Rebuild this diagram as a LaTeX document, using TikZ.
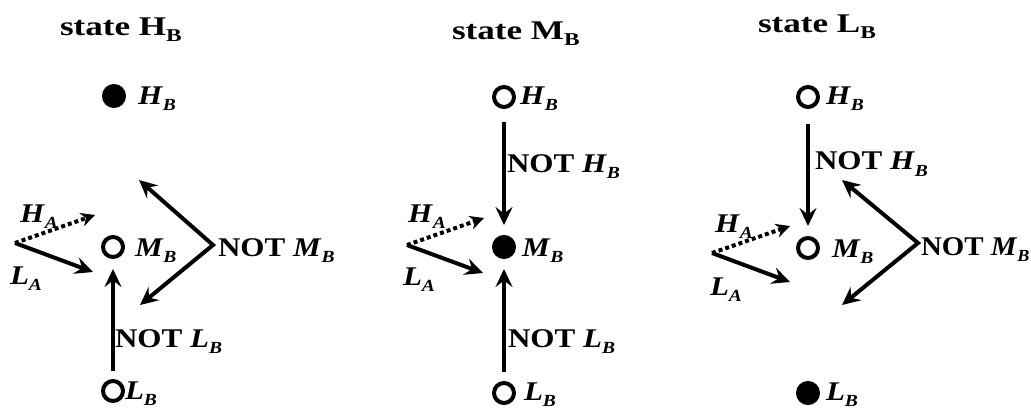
\documentclass[tikz,border=0pt]{standalone}
\usepackage{fontspec}
\setmainfont{Liberation Serif}
\usepackage{graphicx}
\usetikzlibrary{arrows.meta}

\newcommand\vv[2]{\textbf{\textit{#1}}\raisebox{-6pt}{\fontsize{17}{17}\selectfont\textbf{\textit{#2}}}}
\newcommand\sx[1]{\scalebox{1.15}[1]{#1}}
\newcommand\ttl[2]{\scalebox{1.3}[1]{\textbf{state #1}\raisebox{-6pt}{\fontsize{18}{18}\selectfont\textbf{#2}}}}

\begin{document}
\begin{tikzpicture}[x=1pt,y=-1pt,
 every node/.style={inner sep=0pt, outer sep=0pt},
 lbl/.style={anchor=base west, font=\fontsize{27}{30}\selectfont},
 ttlbl/.style={anchor=base west, font=\fontsize{27}{30}\selectfont},
 opn/.style={circle, draw, line width=4pt, minimum size=20pt},
 fil/.style={circle, draw, fill, line width=4pt, minimum size=20pt},
 arr/.style={line width=4pt, -{Stealth[length=18pt,width=17pt,inset=6.5pt]}},
 darr/.style={line width=4pt, {Stealth[length=18pt,width=17pt,inset=6.5pt]}-{Stealth[length=18pt,width=17pt,inset=6.5pt]}},
 dots/.style={line width=4pt, dash pattern=on 4pt off 3pt, -{Stealth[length=14pt,width=14pt]}},
]
\useasboundingbox (0,0) rectangle (1031,409);

% ---------- panel 1 ----------
\node[ttlbl] (t1) at (60,36) {\ttl{H}{B}};
\node[fil] (HB1) at (114,96) {};
\node[opn] (MB1) at (113,247) {};
\node[opn] (LB1) at (113,391) {};
\draw[arr, shorten <=10pt, shorten >=12pt] (LB1) -- (MB1);
\coordinate (V1) at (213,245);
\coordinate (T1a) at (139,180);
\coordinate (T1b) at (140,305);
\draw[darr] (T1a) -- (V1) -- (T1b);
\coordinate (A1) at (15,243);
\coordinate (LA1) at (93,272);
\coordinate (HA1) at (95,215);
\draw[arr] (A1) -- (LA1);
\draw[dots] (A1) -- (HA1);
\node[lbl] (hb1) at (138,105) {\sx{\vv{H}{B}}};
\node[lbl] (mb1) at (135,256) {\sx{\vv{M}{B}}};
\node[lbl] (lb1) at (125,399) {\sx{\vv{L}{B}}};
\node[lbl] (nl1) at (115,347) {\sx{\textbf{NOT} \vv{L}{B}}};
\node[lbl] (nm1) at (218,256) {\sx{\textbf{NOT} \vv{M}{B}}};
\node[lbl] (ha1) at (20,222) {\sx{\vv{H}{A}}};
\node[lbl] (la1) at (10,284) {\sx{\vv{L}{A}}};

% ---------- panel 2 ----------
\node[ttlbl] (t2) at (452,40) {\ttl{M}{B}};
\node[opn] (HB2) at (504,97) {};
\node[fil] (MB2) at (504,247) {};
\node[opn] (LB2) at (504,393) {};
\draw[arr, shorten <=15pt, shorten >=12pt] (HB2) -- (MB2);
\draw[arr, shorten <=11pt, shorten >=12pt] (LB2) -- (MB2);
\coordinate (A2) at (407,245);
\coordinate (LA2) at (483,273);
\coordinate (HA2) at (484,218);
\draw[arr] (A2) -- (LA2);
\draw[dots] (A2) -- (HA2);
\node[lbl] (hb2) at (520,105) {\sx{\vv{H}{B}}};
\node[lbl] (nh2) at (507,172) {\sx{\textbf{NOT} \vv{H}{B}}};
\node[lbl] (mb2) at (522,256) {\sx{\vv{M}{B}}};
\node[lbl] (nl2) at (508,347) {\sx{\textbf{NOT} \vv{L}{B}}};
\node[lbl] (lb2) at (524,400) {\sx{\vv{L}{B}}};
\node[lbl] (ha2) at (408,222) {\sx{\vv{H}{A}}};
\node[lbl] (la2) at (403,285) {\sx{\vv{L}{A}}};

% ---------- panel 3 ----------
\node[ttlbl] (t3) at (758,33) {\ttl{L}{B}};
\node[opn] (HB3) at (808,97) {};
\node[opn] (MB3) at (808,248) {};
\node[fil] (LB3) at (808,393) {};
\draw[arr, shorten <=17pt, shorten >=12pt] (HB3) -- (MB3);
\coordinate (V3) at (918,243);
\coordinate (T3a) at (842,180);
\coordinate (T3b) at (842,305);
\draw[darr] (T3a) -- (V3) -- (T3b);
\coordinate (A3) at (712,253);
\coordinate (LA3) at (790,282);
\coordinate (HA3) at (790,226);
\draw[arr] (A3) -- (LA3);
\draw[dots] (A3) -- (HA3);
\node[lbl] (hb3) at (826,105) {\sx{\vv{H}{B}}};
\node[lbl] (nh3) at (815,170) {\sx{\textbf{NOT} \vv{H}{B}}};
\node[lbl] (mb3) at (832,257) {\sx{\vv{M}{B}}};
\node[lbl] (nm3) at (921,255) {\scalebox{1.07}[1]{\textbf{NOT} \vv{M}{B}}};
\node[lbl] (ha3) at (715,232) {\sx{\vv{H}{A}}};
\node[lbl] (la3) at (710,295) {\sx{\vv{L}{A}}};
\node[lbl] (lb3) at (826,400) {\sx{\vv{L}{B}}};
\end{tikzpicture}
\end{document}
